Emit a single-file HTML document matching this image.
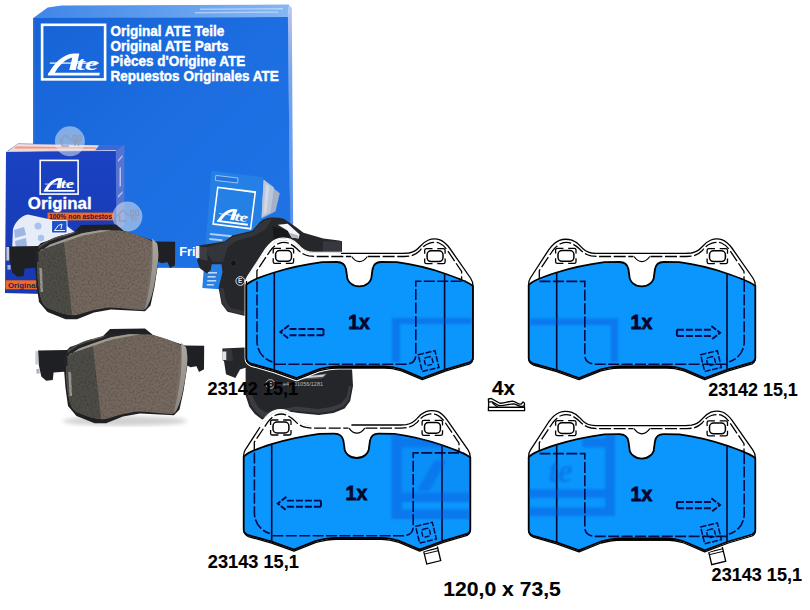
<!DOCTYPE html>
<html>
<head>
<meta charset="utf-8">
<title>ATE brake pads</title>
<style>
html,body{margin:0;padding:0;background:#fff;}
body{width:810px;height:610px;overflow:hidden;position:relative;font-family:"Liberation Sans",sans-serif;}
svg{position:absolute;left:0;top:0;display:block;}
.b{font-weight:bold;}
</style>
</head>
<body>
<svg width="810" height="610" viewBox="0 0 810 610" style="font-family:'Liberation Sans',sans-serif">
<defs>
  <linearGradient id="gBox" x1="0" y1="0" x2="1" y2="1">
    <stop offset="0" stop-color="#1763d6"/>
    <stop offset="0.5" stop-color="#1c6ee1"/>
    <stop offset="1" stop-color="#1f74e6"/>
  </linearGradient>
  <linearGradient id="gTop" x1="0" y1="0" x2="1" y2="0">
    <stop offset="0" stop-color="#3f86e8"/>
    <stop offset="0.5" stop-color="#5f9dee"/>
    <stop offset="1" stop-color="#86b6f4"/>
  </linearGradient>
  <linearGradient id="gSide" x1="0" y1="0" x2="0" y2="1">
    <stop offset="0" stop-color="#b8c6f2"/>
    <stop offset="0.25" stop-color="#7fa6ec"/>
    <stop offset="1" stop-color="#4a8ae8"/>
  </linearGradient>
  <linearGradient id="gCham" x1="0" y1="0" x2="0" y2="1">
    <stop offset="0" stop-color="#aaa6a0"/>
    <stop offset="1" stop-color="#8a857e"/>
  </linearGradient>
  <linearGradient id="gSmall" x1="0" y1="0" x2="0" y2="1">
    <stop offset="0" stop-color="#1a42c2"/>
    <stop offset="1" stop-color="#1838b0"/>
  </linearGradient>
  <linearGradient id="gFric" x1="0" y1="0" x2="1" y2="0.3">
    <stop offset="0" stop-color="#72665d"/>
    <stop offset="1" stop-color="#786b61"/>
  </linearGradient>
  <filter id="blur2"><feGaussianBlur stdDeviation="2"/></filter>
  <filter id="blur1" x="-10%" y="-10%" width="120%" height="120%"><feGaussianBlur stdDeviation="1.3"/></filter>
  <filter id="noise" x="0" y="0" width="100%" height="100%">
    <feTurbulence type="fractalNoise" baseFrequency="0.5" numOctaves="2" seed="7" result="n"/>
    <feColorMatrix in="n" type="matrix" values="0 0 0 0 0  0 0 0 0 0  0 0 0 0 0  0.45 0 0 0 -0.17" result="a"/>
    <feComposite in="a" in2="SourceGraphic" operator="in"/>
  </filter>

  <!-- ATE logo, drawn in a 64x56 box (square outline + script) -->
  <g id="ateLogo">
    <rect x="1.3" y="1.3" width="63" height="54.6" fill="none" stroke="#fff" stroke-width="2.6"/>
    <g id="ateScript" fill="#fff" stroke="none">
      <path d="M7.5,50.5 C13,40 22,30.5 33,30 L38.5,30 L35,46.5 L28.5,46.5 L31.5,34 C24,36 17,43 13.5,50.5 Z"/>
      <rect x="9" y="39" width="49" height="1.2"/>
      <path d="M7.5,49.3 L59,49.3 L58.6,52 L7,52 Z"/>
      <text x="35.5" y="46.6" font-family="Liberation Serif" font-weight="bold" font-style="italic" font-size="19" textLength="22" lengthAdjust="spacingAndGlyphs">te</text>
    </g>
  </g>

  <!-- photo pad (front, friction side). coordinates absolute for pad #1 -->
  <g id="padFront">
    <!-- backing plate -->
    <path fill="#1f2024" d="M9,246.4 L38,246 L41,243 L74,232 L81,225 L116,224.5 L124,231 L156,241.5 L175.2,241.8 L175,265.3 L170,267.9 L167.5,262.3 L161.4,263.3 L158.4,261.6 L154.5,287 L150.5,305.5 L145,311.2 L111,309.6 L94,312.4 L77,319.3 L65.6,319.3 L47.5,312 L39,302 L36.5,284 L35.2,267.7 L24.6,268.5 L23.8,275.9 L17.2,276.7 L12.3,272.6 L9.8,261 Z"/>
    <rect x="6.4" y="247" width="2.8" height="13.5" fill="#c5c9d2"/>
    <rect x="7.4" y="265" width="3.2" height="4.6" fill="#aeb3bf"/>
    <!-- friction -->
    <path fill="url(#gFric)" d="M39.5,246 C50,239 62,234.5 75,232 C88,229 105,228.5 118.5,230.2 C130,231.5 145,237.5 157,243.3 C158.5,250 158.5,256 158,260 C157,270 155.5,277 154.3,284 C152.5,293 150.5,300 148,305 C147,308 145.5,309.5 143,310 C132,310 122,307.5 111,307.5 C105,307.5 99,309 94,310 C87,311.5 80,315 74,315.2 C65,315 56,311.5 49.4,308.8 C45,306.5 43,304 42,301.4 C40,296 39,290 38.3,284 C37.3,276 37,268 37,259.4 C37,253 38,249 39.5,246 Z"/>
    <!-- left chamfer -->
    <path fill="#4f4d47" d="M39.5,246 C48,240 56,236.5 63.1,235 L72.1,315.2 C64,314.8 56,311.5 49.4,308.8 C45,306.5 43,304 42,301.4 C40,296 39,290 38.3,284 C37.3,276 37,268 37,259.4 C37,253 38,249 39.5,246 Z"/>
    <!-- right chamfer -->
    <path fill="url(#gCham)" d="M152.2,238.6 L157,243.3 C158.5,250 158.5,256 158,260 C157,270 155.5,277 154.3,284 C152.5,293 150.5,300 148,305 L144.8,309 C148,296 150.5,283 151.8,270 C152.8,258 152.8,248 152.2,238.6 Z"/>
    <!-- left side light strip -->
    <path fill="#a5a29c" d="M39.3,268 L42,268 L43,292 L40.5,292 Z" opacity="0.9"/>
    <!-- texture -->
    <path filter="url(#noise)" fill="#000" d="M39.5,246 C50,239 62,234.5 75,232 C88,229 105,228.5 118.5,230.2 C130,231.5 145,237.5 152,240 L145,309 C132,310 122,307.5 111,307.5 C105,307.5 99,309 94,310 C87,311.5 80,315 74,315.2 C65,315 56,311.5 49.4,308.8 C45,306.5 43,304 42,301.4 C40,296 39,290 38.3,284 C37.3,276 37,268 37,259.4 C37,253 38,249 39.5,246 Z"/>
    <!-- top-left dark plate edge + light chamfer band -->
    <path fill="#232428" d="M35.2,262 L35.2,251.3 L49.2,241.5 L73.8,233.3 L81,229.6 L118,228.6 L118,230.4 L100,230.2 L82,233.2 L63.1,239.8 L50,244.5 L38.5,252.5 L38.5,262 Z"/>
    <path fill="#a09b92" d="M38.5,253.5 L38.5,252.5 L50,244.5 L63.1,239.8 L82,233.2 L100,230.2 L112,230.2 L98.4,232.5 L82,235.7 L63.1,242.3 L41,249.7 Z"/>
  </g>
</defs>

<rect x="0" y="0" width="810" height="610" fill="#ffffff"/>

<!-- ============ BIG BOX ============ -->
<g id="bigbox">
  <!-- top face strip -->
  <path d="M32.6,18.4 L47.7,7.4 L61.5,5.4 L289,4.6 L288.2,17.2 Z" fill="url(#gTop)"/>
  <path d="M33,18.2 L288,17 L288,18.4 L33,19.6 Z" fill="#4f90ea" opacity="0.7"/>
  <path d="M200,8.6 L283,8 L283,9.4 L200,10 Z M195,12 L278,11.4 L278,12.8 L195,13.4 Z" fill="#e8f1ff" opacity="0.5"/>
  <!-- right side strip -->
  <path d="M287.8,17 L289.5,5 L291.8,8 L293.4,268.5 L290.6,268.5 Z" fill="url(#gSide)"/>
  <!-- front face -->
  <path d="M33,18 L287.9,17 L290.8,268.5 L33,267.3 Z" fill="url(#gBox)"/>
  <path d="M33,18 L34.6,18 L34.6,267.3 L33,267.3 Z" fill="#3a7fe6" opacity="0.5"/>
  <use href="#ateLogo" x="40.8" y="23.5"/>
  <g fill="#fff" class="b" font-size="14.8" font-weight="bold" stroke="#fff" stroke-width="0.45">
    <text x="110.6" y="35.6" textLength="113.7" lengthAdjust="spacingAndGlyphs">Original ATE Teile</text>
    <text x="110.6" y="50.8" textLength="117.9" lengthAdjust="spacingAndGlyphs">Original ATE Parts</text>
    <text x="110.6" y="66.1" textLength="134.8" lengthAdjust="spacingAndGlyphs">Pièces d'Origine ATE</text>
    <text x="110.6" y="81.3" textLength="168.1" lengthAdjust="spacingAndGlyphs">Repuestos Originales ATE</text>
  </g>
  <text x="179.3" y="255.5" fill="#fff" font-weight="bold" font-size="12.8">Fri</text>
</g>

<!-- leaflet on big box -->
<g id="leaflet">
  <path d="M263.6,180.6 L279.8,193.2 L275.4,211.6 L261.4,218.5 Z" fill="#a4b0c9"/>
  <path d="M263.6,179.5 L274,187.6 L270.5,212.6 L261.4,217.4 Z" fill="#bcc6d9"/>
  <path d="M266,184 L269.5,186.6 L266.5,213 L263.4,214.6 Z" fill="#d0d7e5"/>
  <path d="M211.4,170.7 L263,177.2 L261,222 L258,246 L230,290 L202.3,288 Z" fill="#2580e6"/>
  <g fill="#dbe8fb" opacity="0.85"><rect x="208" y="272" width="9" height="1.6"/><rect x="207.6" y="276" width="8" height="1.6"/><rect x="207.2" y="280" width="9" height="1.6"/><rect x="206.8" y="284" width="7" height="1.6"/></g>
  <path d="M215.8,175.4 L238,178 L237.6,183 L215.4,180.4 Z" fill="#2274dc" stroke="#a4c8f6" stroke-width="0.9"/>
  <g transform="translate(217.1,186.4) rotate(7.2) scale(0.60,0.675)">
    <use href="#ateLogo"/>
  </g>
  <rect x="210" y="233" width="22" height="2" fill="#cfe0fa" opacity="0.8" transform="rotate(6 210 233)"/>
  <rect x="209.5" y="238" width="13" height="2" fill="#cfe0fa" opacity="0.8" transform="rotate(6 209.5 238)"/>
</g>

<!-- ============ SMALL BOX ============ -->
<g id="smallbox">
  <!-- top face -->
  <path d="M6,152 L18,143.4 L124,145.3 L115.7,151 Z" fill="#3b6ad8"/>
  <path d="M6,152 L115.7,151 L116.2,150 L7,151 Z" fill="#dfe6fa" opacity="0.8"/>
  <path d="M17.5,144 L99,145.2 L95,150.6 L8,151.3 Z" fill="#f1d9dc"/>
  <path d="M16,146.6 L96.5,147.2 L95.4,148.8 L14,148.4 Z" fill="#ee9a78"/>
  <!-- right side face -->
  <path d="M115.7,151 L124.4,144.5 L124.4,226 L116.5,229 Z" fill="#5674d2"/>
  <path d="M118,160 L122.5,155 L122.5,157 L118,162 Z M118,196 L122.5,191 L122.5,193 L118,198 Z M119.5,168 L121,167 L121,186 L119.5,187 Z" fill="#dfe6fa" opacity="0.7"/>
  <!-- front face -->
  <path d="M6,152 L115.7,151 L117,296 L5,293 Z" fill="url(#gSmall)"/>
  <g transform="translate(39.4,159.6) scale(0.602,0.617)"><use href="#ateLogo"/></g>
  <text x="27.8" y="209.4" fill="#fff" font-weight="bold" font-size="16.6" textLength="63.8" lengthAdjust="spacingAndGlyphs" stroke="#fff" stroke-width="0.3">Original</text>
  <!-- orange label -->
  <rect x="47.6" y="212.6" width="66" height="7.8" fill="#ee6a25"/>
  <text x="49" y="219" fill="#3a1030" font-weight="bold" font-size="7.6" textLength="63" lengthAdjust="spacingAndGlyphs">100% non asbestos</text>
  <!-- pad illustration, light -->
  <path d="M13,229 C15,222 22,215 28,214.5 L46,218.5 L62,222 L76,233 L75,250 L12,251 Z" fill="#e6ecf8"/>
  <circle cx="38" cy="226" r="3.5" fill="#a9c3ea"/>
  <circle cx="41" cy="238" r="3.2" fill="#a9c3ea"/>
  <path d="M14,230 L24,227 L26,235 L15,238 Z M15,241 L26,238 L27,246 L16,249 Z" fill="#9db6e2"/>
  <rect x="51.6" y="220.6" width="15.4" height="12.4" fill="#1e50c8" stroke="#fff" stroke-width="0.9"/>
  <path d="M54,230.5 L65,230.5 M55,230 Q58,224 62,224 L61,229" stroke="#fff" stroke-width="0.9" fill="none"/>
  <!-- bottom orange label -->
  <rect x="5.5" y="280.3" width="40" height="9" fill="#ee6a25"/>
  <text x="8" y="287.8" fill="#27245a" font-weight="bold" font-size="7.8">Original O</text>
</g>

<!-- watermark circles -->
<g>
  <circle cx="69.9" cy="141.3" r="15" fill="#e6e9f0" opacity="0.52"/>
  <circle cx="127.4" cy="216.6" r="15" fill="#e6e9f0" opacity="0.52"/>
  <g fill="none" stroke="#8f9bb0" stroke-width="1.4" opacity="0.8">
    <path d="M59.5,141 L65.5,135 L71.5,141 M62,140.5 L62,146 L69,146"/>
    <path d="M73,135.5 h3 v5 h-3 z M78,135.5 h3 v5 h-3 z M73,142 h4 M78.5,142 v4 M75,142 v4"/>
    <path d="M117,216 L123,210 L129,216 M119.5,215.5 L119.5,221 L126.5,221"/>
    <path d="M130.5,210.5 h3 v5 h-3 z M135.5,210.5 h3 v5 h-3 z M130.5,217 h4 M136,217 v4 M132.5,217 v4"/>
  </g>
</g>

<!-- ============ PHOTO PADS (front) ============ -->
<ellipse cx="125" cy="421" rx="62" ry="5" fill="#000" opacity="0.18" filter="url(#blur2)"/>
<use href="#padFront"/>
<use href="#padFront" transform="translate(29,104)"/>

<!-- ============ DARK PADS (back view) ============ -->
<g id="darkpads">
  <!-- upper dark pad -->
  <path fill="#26272b" d="M198.8,245.5 L224.5,241.5 L232.4,235.6 L252.2,230.7 L260.1,221.8 Q266,217.6 271.9,217.6 Q278,217.2 283.8,218.8 L295.6,226.7 L303.5,232.7 L323.3,238.6 L339,240.5 L342,241.2 L342,256 L300,262 L260,300 L250,316.5 L244.3,315.7 L227.5,311.7 L221.5,303.8 L218.6,288 L222.5,272.2 L221.5,264.3 L211.7,264.3 L210.7,270.2 L206.7,273.2 L199.8,268.2 L196.9,260.3 L198.8,258 Z"/>
  <path fill="#36383d" d="M224.5,242.5 L232.8,236.8 L252.6,231.9 L260.6,223 Q266,219 271.9,219 L266,229 L254,236 L236,241 L228,247 L223,262 L213,262 L204,248 Z" opacity="0.85"/>
  <path fill="#3b3d43" d="M199.5,246.4 L207,247.6 L207.5,261 L199.5,259 Z"/>
  <path fill="#17181b" d="M272.5,226.5 L287.5,230 L290,240 L274,240 Z"/>
  <rect x="323" y="241.4" width="18" height="11" fill="#37383d"/>
  <rect x="195.8" y="246" width="3.6" height="12" fill="#e8eaee"/>
  <!-- white clip -->
  <path fill="#f6f6f8" d="M277.8,224.8 L287.7,223.8 L299.6,234.6 L298.6,238.6 L291.7,237.6 L287.7,230.7 Z"/>
  <path fill="#b4b7c0" d="M289.5,232.8 L291.7,237.6 L298.6,238.6 L298,235.2 Z"/>
  <circle cx="233.4" cy="263.3" r="3.2" fill="#141518"/>
  <circle cx="233.4" cy="263.3" r="3.2" fill="none" stroke="#3a3b40" stroke-width="0.8"/>
  <circle cx="240.3" cy="281" r="4.4" fill="none" stroke="#dedee2" stroke-width="1"/>
  <text x="238" y="283.4" font-size="6.4" fill="#dedee2" font-weight="bold">E</text>
  <path fill="#34363b" d="M219.5,288 L222.2,303.4 L228,311 L244.3,314.8 L250,315.6 L251.5,312.5 L245,311.5 L231,308 L226,301.5 L223.5,288 Z"/>

  <!-- lower dark pad -->
  <path fill="#25262a" d="M222.4,348.6 L244.6,347.5 L250,350 L352,368 L353,386 L350.2,401 L344.6,408.5 L333.5,413 L318.7,415 L298.3,413 L292,412 L262,419.5 L254.8,414 L249.3,406.7 L245.6,395.6 L245.6,367.8 L240,369.6 L235.4,378 L226,374.3 L224,361 L222.4,360 Z"/>
  <path fill="#3a3c41" d="M247.5,394 L251,405 L256.5,412.5 L263,417.5 L292,410.5 L318.7,413 L333,411 L343.5,406.5 L348.8,399.5 L351.5,386 L349,386 L346.5,397 L341,403.5 L331,407 L318,409 L296,406.5 L266,412.5 L259,408 L254,400 L251,392 Z"/>
  <path fill="#34363b" d="M224,349 L232,349.5 L233,361 L224.5,361 Z"/>
  <rect x="222.3" y="351.5" width="4" height="8.5" fill="#dfe2e8"/>
  <path fill="#4b4d52" d="M300,376.3 L327.7,373.6 L322,378.5 L298,380 Z"/>
  <path fill="#c9cbd0" d="M304,376.6 L326,374.3 L323,376.8 L303,378.4 Z"/>
  <circle cx="270.3" cy="384" r="4.4" fill="none" stroke="#c8c8cc" stroke-width="0.9"/>
  <text x="268" y="386.4" font-size="6.2" fill="#c8c8cc" font-weight="bold">E</text>
  <text x="283" y="386" font-size="5.6" fill="#b8b8bd" textLength="40" lengthAdjust="spacingAndGlyphs">e4 - 01056/1281</text>
</g>

<!-- ============ LABELS ============ -->
<g fill="#000" font-weight="bold" stroke="#000" stroke-width="0.12">
  <text x="207.6" y="395.3" font-size="17.8" textLength="90.6" lengthAdjust="spacingAndGlyphs">23142 15,1</text>
  <text x="708.2" y="396" font-size="17.8" textLength="89.6" lengthAdjust="spacingAndGlyphs">23142 15,1</text>
  <text x="207.8" y="567.9" font-size="17.8" textLength="91" lengthAdjust="spacingAndGlyphs">23143 15,1</text>
  <text x="711.6" y="580.9" font-size="17.8" textLength="90.4" lengthAdjust="spacingAndGlyphs">23143 15,1</text>
  <text x="443.3" y="596.4" font-size="19.4" textLength="117.5" lengthAdjust="spacingAndGlyphs">120,0 x 73,5</text>
  <text x="492" y="394.6" font-size="19.8" textLength="23" lengthAdjust="spacingAndGlyphs">4x</text>
</g>

<!-- shim icon -->
<g fill="#fff" stroke="#000" stroke-width="1.3" stroke-linejoin="round">
  <path d="M488.6,399 L488.6,407.4 L524.4,407.4 L524.4,405" fill="#fff"/>
  <path d="M488.4,398.8 L491.3,398.5 L499.8,403.2 C503.5,403.8 508.5,401.3 512.5,401.2 C515.6,401.3 517.8,404.4 520.6,404.2 C522.2,404 522.2,402 523.2,402 C524.8,402.6 524.8,405 524,405.6 C523.2,406.4 522,406.5 520.8,406.4 C518,406.2 516.2,404 513.2,403.9 C509,403.9 503.5,406.4 498.6,405.5 L492.2,401.9 L488.6,401.9 Z"/>
  <path d="M492.4,403 L497.8,407.2" fill="none" stroke-width="1.1"/>
  <rect x="488.4" y="407.4" width="36.2" height="3.3"/>
</g>

<!-- ============ PAD DIAGRAMS ============ -->
<defs>
  <path id="plateP" d="M246.3,358 L246.3,284 Q246.3,280.5 248,278 L266.3,249.8 Q271.5,242.5 277,240.3 Q283,238.2 289.5,240.2 Q294.5,242 298,246.2 Q303,252.2 309,253 L313,253.4 L403,253.4 L409,253 Q415.5,251.6 419.5,247 Q423.5,242 428.5,240 Q434.2,238 440,239.8 Q445,241.8 449.5,248 L470.5,278 Q472.9,281.5 472.9,285.5 L472.9,358 Q472.9,362.2 469.7,363.8 L446,370.8 L422.3,379.6 L401.6,370.8 Q392,367.8 383.8,367.8 L339.4,367.8 Q330,367.8 318.6,370.8 L296.6,379.6 L274.2,371.6 L251,365 Q246.3,363 246.3,358 Z"/>
  <path id="blueP" d="M246.3,358 L246.3,285 C250,281 258,277.5 274.2,272.5 S305,264.5 322,262.2 L337,262 Q344.5,262 346,269 L347,276 A12.3,10.4 0 0 0 371.6,276 L372.6,269 Q374,262 381,262 L397,262.2 C414,264.5 430,268.5 444.5,273.5 S468,281.5 472.9,286 L472.9,358 Q472.9,361 469.7,362.3 L446,369.3 L422.3,378.1 L401.6,369.3 Q392,366.3 383.8,366.3 L339.4,366.3 Q330,366.3 318.6,369.3 L296.6,378.1 L274.2,370.1 L251,363.6 Q246.3,362 246.3,358 Z"/>
  <!-- inner chamfer line along top -->
  <path id="innerL" d="M256.9,281 L256.9,270.6 L270.2,250.8 Q274.5,245 279,243.3 Q283.5,241.6 288.5,243.2 Q293,245 296.9,248.8 Q302,254.5 308.8,255.8 L314.7,256.5 L351,256.5"/>
  <path id="innerR" d="M368,256.5 L404,256.5 L410,256 Q415.5,255 420,250.5 Q424,245 429,243.3 Q434.2,241.5 439,243 Q443.5,244.8 447.5,250.5 L461.6,271.5 L461.6,281"/>
  <path id="earW1" d="M246.8,281 Q247,279.6 248,278 L266.3,249.8 Q271.5,242.5 277,240.3 Q283,238.2 289.5,240.2 Q294.5,242 298,246.2 Q303,252.2 309,253 L313,253.4 L341,253.4"/>
  <path id="earW3" d="M262.5,255.6 L266.3,249.8 Q271.5,242.5 277,240.3 Q283,238.2 289.5,240.2 Q294.5,242 298,246.2 Q303,252.2 309,253 L313,253.4 L354,253.4"/>
  <path id="veeP" d="M351.6,256.5 Q355.2,261.6 359.5,261.6 Q363.8,261.6 367.4,256.5"/>
  <g id="holeP">
    <rect x="275.6" y="250.5" width="15.9" height="10.8" rx="4" ry="4" fill="#fff" stroke="#000" stroke-width="1.5"/>
    <path d="M273.2,253.5 L273.2,250 Q273.2,248.4 275,248.4 L281,248.4 M285.8,248.4 L291.8,248.4 Q293.6,248.4 293.6,250 L293.6,253.5 M293.6,258.3 L293.6,261.8 Q293.6,263.4 291.8,263.4 L285.8,263.4 M281,263.4 L275,263.4 Q273.2,263.4 273.2,261.8 L273.2,258.3" fill="none" stroke="#000" stroke-width="1.3"/>
  </g>
  <g id="sqP">
    <g transform="translate(428.6,361.1) rotate(-13.5)">
      <rect x="-8.6" y="-8.6" width="17.2" height="17.2" fill="none" stroke="#040a4a" stroke-width="1.5" stroke-dasharray="6 1.6"/>
      <rect x="-4" y="-4" width="8" height="8" rx="2.2" fill="none" stroke="#040a4a" stroke-width="1.4" stroke-dasharray="5 1.3"/>
    </g>
  </g>
  <!-- base pad: plate+blue+common -->
  <g id="padBase">
    <use href="#plateP" fill="#fff" stroke="#fff" stroke-width="3.4" stroke-linejoin="round"/>
    <use href="#plateP" fill="#fff" stroke="#000" stroke-width="1.3" stroke-linejoin="round"/>
    <use href="#innerL" fill="none" stroke="#000" stroke-width="1.3" stroke-dasharray="12 2.6"/>
    <use href="#innerR" fill="none" stroke="#000" stroke-width="1.3" stroke-dasharray="12 2.6"/>
    <use href="#veeP" fill="none" stroke="#000" stroke-width="1.2"/>
    <use href="#blueP" fill="#0a96fc" stroke="#000" stroke-width="1.8" stroke-linejoin="round"/>
    <path d="M330,367.6 L390,367.6" stroke="#000" stroke-width="1.8" fill="none"/>
    <use href="#holeP"/>
    <use href="#holeP" transform="translate(151.5,0.3)"/>
    <line x1="274.3" y1="272.8" x2="274.3" y2="370.2" stroke="#02062e" stroke-width="1.6"/>
    <line x1="444.6" y1="273.8" x2="444.6" y2="369.6" stroke="#02062e" stroke-width="1.6"/>
    <text x="348.2" y="328.9" font-weight="bold" font-size="21" fill="#03052c" stroke="#03052c" stroke-width="0.8" textLength="21.6" lengthAdjust="spacingAndGlyphs">1x</text>
  </g>
  <!-- left-arrow detail set (pad1/pad3) -->
  <g id="detL" fill="none" stroke="#040a4a" stroke-width="1.6" stroke-dasharray="11 2.4">
    <path d="M257,281 L257,342 Q258,357 272.5,362"/>
    <path d="M275,364.2 L406,364.2 Q415.8,363.5 415.8,355 L415.8,281.3 L466,281.3"/>
    <path d="M323.5,329 L289.5,329 M323.5,335.2 L289.5,335.2 M323.5,329 L323.5,335.2" stroke-dasharray="7 2" stroke-width="1.9"/>
    <path d="M289,325.2 L280.3,332 L289,338.8" stroke-dasharray="6 1.5" stroke-width="1.9"/>
  </g>
  <!-- right-arrow detail set (pad2/pad4) in pad1 coordinates -->
  <g id="detR" fill="none" stroke="#040a4a" stroke-width="1.6" stroke-dasharray="11 2.4">
    <path d="M461.8,281 L461.8,342 Q461,357 446.5,362"/>
    <path d="M444,364.2 L313,364.2 Q302.4,363.5 302.4,355 L302.4,281.4 L257,281.4"/>
    <path d="M394.5,329.8 L428.5,329.8 M394.5,336 L428.5,336 M394.5,329.8 L394.5,336" stroke-dasharray="7 2" stroke-width="1.9"/>
    <path d="M429,326 L437.7,332.8 L429,339.6" stroke-dasharray="6 1.5" stroke-width="1.9"/>
  </g>
  <!-- wear indicator tail -->
  <g id="tailP">
    <g transform="translate(428.6,361.1) rotate(-13.5)">
      <rect x="-6.6" y="10" width="14.4" height="20.6" fill="#fff" stroke="#000" stroke-width="1.3"/>
      <line x1="-6.6" y1="17.8" x2="7.8" y2="17.8" stroke="#000" stroke-width="1.2"/>
      <line x1="-6.6" y1="20.4" x2="7.8" y2="20.4" stroke="#000" stroke-width="0.9"/>
    </g>
  </g>
  <clipPath id="clipBlue"><use href="#blueP"/></clipPath>
</defs>

<!-- pad 1 -->
<g id="pad1">
  <use href="#padBase"/>
  <use href="#earW1" fill="none" stroke="#fff" stroke-width="2" stroke-linecap="butt"/>
  <g clip-path="url(#clipBlue)" opacity="0.4">
    <path d="M392,318 L472,318 L472,324 L400,324 L400,362 L392,362 Z" fill="#0b50d8" filter="url(#blur1)"/>
  </g>
  <use href="#detL"/>
  <use href="#sqP"/>
</g>
<!-- pad 2 -->
<g id="pad2" transform="translate(282.4,0)">
  <use href="#padBase"/>
  <g clip-path="url(#clipBlue)" opacity="0.4">
    <path d="M247,318.5 L335.5,318.5 L335.5,362 L328.5,362 L328.5,325 L247,325 Z" fill="#0b50d8" filter="url(#blur1)"/>
  </g>
  <use href="#detR"/>
  <use href="#sqP"/>
</g>
<!-- pad 3 -->
<g id="pad3" transform="translate(-2.6,171.6)">
  <use href="#tailP"/>
  <use href="#padBase"/>
  <use href="#earW3" fill="none" stroke="#fff" stroke-width="2"/>
  <g clip-path="url(#clipBlue)" opacity="0.4">
    <path d="M394,262 L404.6,262 L404.6,347.4 L394,347.4 Z M404.6,320.9 L473,320.9 L473,330.4 L404.6,330.4 Z M404.6,337.9 L473,337.9 L473,347.4 L404.6,347.4 Z M404.6,266.4 L448,266.4 L448,276 L404.6,276 Z M437,288.9 L449,288.9 L431.9,318.8 L419.9,318.8 Z" fill="#0b50d8" filter="url(#blur1)"/>
    <path d="M404.6,276 L473,276 L473,320.9 L404.6,320.9 Z" fill="#0b50d8" opacity="0.25"/>
  </g>
  <use href="#detL"/>
  <use href="#sqP"/>
</g>
<!-- pad 4 -->
<g id="pad4" transform="translate(282.4,172.2)">
  <use href="#tailP"/>
  <use href="#padBase"/>
  <g clip-path="url(#clipBlue)" opacity="0.4">
    <path d="M322.9,262 L332.5,262 L332.5,343.8 L322.9,343.8 Z M246,317.1 L322.9,317.1 L322.9,325.6 L246,325.6 Z M246,335.2 L322.9,335.2 L322.9,343.8 L246,343.8 Z M300,266 L322.9,266 L322.9,275 L300,275 Z" fill="#0b50d8" filter="url(#blur1)"/>
    <text x="266" y="309.5" font-family="Liberation Serif" font-style="italic" font-weight="bold" font-size="34" fill="#0b50d8" filter="url(#blur1)">te</text>
  </g>
  <use href="#detR"/>
  <use href="#sqP"/>
</g>

</svg>
</body>
</html>
